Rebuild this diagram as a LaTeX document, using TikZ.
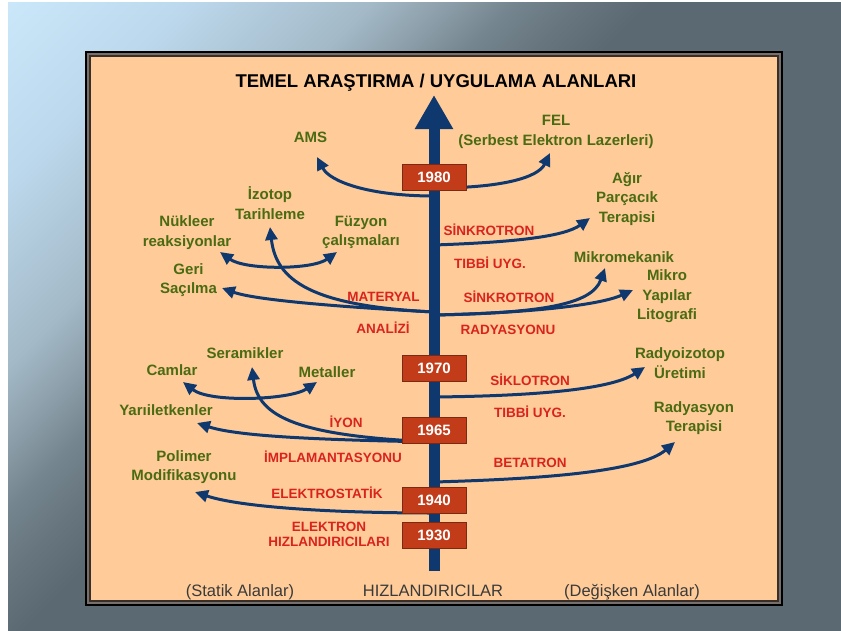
\documentclass[tikz,border=0pt]{standalone}
\usepackage{fontspec}
\setmainfont{Liberation Sans}
\usetikzlibrary{arrows.meta}
\definecolor{bgzero}{HTML}{CBE8FB}
\definecolor{bgone}{HTML}{BCD8EC}
\definecolor{bgtwo}{HTML}{A3B9C7}
\definecolor{bgthree}{HTML}{8A9CA7}
\definecolor{bgfour}{HTML}{75858F}
\definecolor{bgfive}{HTML}{66757E}
\definecolor{bgdark}{HTML}{5B6A72}
\definecolor{peach}{HTML}{FFCC99}
\definecolor{framegray}{HTML}{75706E}
\definecolor{frameedge}{HTML}{3A2E28}
\definecolor{axisblue}{HTML}{0F386E}
\definecolor{boxred}{HTML}{C23C1A}
\definecolor{boxedge}{HTML}{7A2A12}
\definecolor{labred}{HTML}{D9231E}
\definecolor{labgreen}{HTML}{4A6B12}
\definecolor{bottomgray}{HTML}{3A3A3A}
\pgfdeclareverticalshading{bglin}{100bp}{color(0bp)=(bgzero); color(14.6bp)=(bgzero); color(21.7bp)=(bgone); color(28.8bp)=(bgtwo); color(31.9bp)=(bgthree); color(34.2bp)=(bgfour); color(36.8bp)=(bgfive); color(39.4bp)=(bgdark); color(100bp)=(bgdark)}
\tikzset{
  gtext/.style={text=labgreen, font=\bfseries\fontsize{15}{19.5}\selectfont, align=center, inner sep=0pt},
  rtext/.style={text=labred, font=\bfseries\fontsize{13.5}{15}\selectfont, align=center, inner sep=0pt},
  yearbox/.style={fill=boxred, draw=boxedge, line width=1pt, minimum width=64pt, minimum height=26pt, inner sep=0pt, text=white, font=\bfseries\fontsize{15}{18}\selectfont},
  conn/.style={draw=axisblue, line width=3pt, -{Triangle[length=13pt,width=12pt]}},
  biconn/.style={draw=axisblue, line width=3pt, {Triangle[length=13pt,width=12pt]}-{Triangle[length=13pt,width=12pt]}},
  btext/.style={text=bottomgray, font=\fontsize{16.5}{19}\selectfont, inner sep=0pt, anchor=base},
}
\begin{document}
\begin{tikzpicture}[x=1pt,y=-1pt]
\useasboundingbox (0,0) rectangle (841,630);
% background
\fill[bgdark] (-5,-5) rectangle (850,640);
\shade[shading=bglin, shading angle=225] (0,0) rectangle (1110,750);
\fill[white] (-5,-5) rectangle (8,640);
\fill[white] (-5,-5) rectangle (850,2);
% frame
\path[fill=framegray, draw=black, line width=1.5pt] (86,52) rectangle (782,605);
\path[fill=peach, draw=frameedge, line width=1.2pt] (90,56) rectangle (778,601);
% title
\node[font=\bfseries\fontsize{18.5}{22}\selectfont, inner sep=0pt] (title) at (436,83) {TEMEL ARAŞTIRMA / UYGULAMA ALANLARI};
% axis coordinates
\coordinate (axbot) at (434,571);
\coordinate (axtop) at (434,95);
\coordinate (sAMS) at (434,196);
\coordinate (sFEL) at (434,188);
\coordinate (sAgir) at (434,245);
\coordinate (sMikro) at (434,315);
\coordinate (sMat) at (434,312);
\coordinate (sSik) at (434,397);
\coordinate (sIyon) at (434,442);
\coordinate (sBeta) at (434,482);
\coordinate (sElek) at (434,513);
% arrow tips
\coordinate (tAMS) at (317,157);
\coordinate (tFEL) at (550,153);
\coordinate (tAgir) at (590,218);
\coordinate (tMyap) at (633,290);
\coordinate (tMmek) at (605,268);
\coordinate (tGeri) at (222,288);
\coordinate (tIzo) at (270,227);
\coordinate (tNuk) at (220,252);
\coordinate (tFuz) at (337,252);
\coordinate (tRiz) at (645,367);
\coordinate (tSer) at (252,367);
\coordinate (tCam) at (183,382);
\coordinate (tMet) at (317,382);
\coordinate (tYar) at (197,423);
\coordinate (tRad) at (675,442);
\coordinate (tPol) at (195,492);
% connectors
\draw[conn] (sAMS) .. controls (370,196) and (330,182) .. (tAMS);
\draw[conn] (sFEL) .. controls (500,188) and (538,178) .. (tFEL);
\draw[conn] (sAgir) .. controls (520,242) and (565,236) .. (tAgir);
\draw[conn] (sMikro) .. controls (530,313) and (600,305) .. (tMyap);
\draw[conn] (sMikro) .. controls (540,313) and (592,305) .. (tMmek);
\draw[conn] (sMat) .. controls (340,307) and (255,300) .. (tGeri);
\draw[conn] (sMat) .. controls (310,306) and (276,280) .. (tIzo);
\draw[biconn] (tNuk) .. controls (245,270) and (312,270) .. (tFuz);
\draw[conn] (sSik) .. controls (530,396) and (610,390) .. (tRiz);
\draw[conn] (sIyon) .. controls (300,436) and (258,418) .. (tSer);
\draw[biconn] (tCam) .. controls (210,403) and (290,400) .. (tMet);
\draw[conn] (sIyon) .. controls (330,440) and (240,437) .. (tYar);
\draw[conn] (sBeta) .. controls (540,479) and (640,472) .. (tRad);
\draw[conn] (sElek) .. controls (330,513) and (240,507) .. (tPol);
% main axis
\draw[axisblue, line width=11pt, -{Triangle[length=34pt,width=36pt]}] (axbot) -- (axtop);
% year boxes
\node[yearbox] (y1980) at (434,177) {1980};
\node[yearbox] (y1970) at (434,368) {1970};
\node[yearbox] (y1965) at (434,430.5) {1965};
\node[yearbox] (y1940) at (434,500) {1940};
\node[yearbox] (y1930) at (434,535) {1930};
% green labels
\node[gtext] (ams) at (310.5,137) {AMS};
\node[gtext] (fel) at (556,132) {FEL\\(Serbest Elektron Lazerleri)};
\node[gtext] (agir) at (627,199) {Ağır\\Parçacık\\Terapisi};
\node[gtext] (izo) at (270,203) {İzotop\\Tarihleme};
\node[gtext] (nuk) at (187,232.5) {Nükleer\\reaksiyonlar};
\node[gtext] (fuz) at (361,232.5) {Füzyon\\çalışmaları};
\node[gtext] (geri) at (188.5,280) {Geri\\Saçılma};
\node[gtext] (mmek) at (624,257) {Mikromekanik};
\node[gtext] (myap) at (667,296.5) {Mikro\\Yapılar\\Litografi};
\node[gtext] (ser) at (245,353) {Seramikler};
\node[gtext] (cam) at (172,370) {Camlar};
\node[gtext] (met) at (327,372) {Metaller};
\node[gtext] (yar) at (166,410) {Yarıiletkenler};
\node[gtext] (pol) at (184,467) {Polimer\\Modifikasyonu};
\node[gtext] (riz) at (680,363) {Radyoizotop\\Üretimi};
\node[gtext] (rad) at (694,418) {Radyasyon\\Terapisi};
% red labels
\node[rtext] (sink1) at (489,230) {SİNKROTRON};
\node[rtext] (tib1) at (490,263) {TIBBİ UYG.};
\node[rtext] (mat) at (383.5,297) {MATERYAL};
\node[rtext] (ana) at (383,328) {ANALİZİ};
\node[rtext] (sink2) at (509,297) {SİNKROTRON};
\node[rtext] (rady) at (508,330) {RADYASYONU};
\node[rtext] (sikl) at (530,380) {SİKLOTRON};
\node[rtext] (tib2) at (530,412) {TIBBİ UYG.};
\node[rtext] (iyon) at (346,422) {İYON};
\node[rtext] (impl) at (333,457) {İMPLAMANTASYONU};
\node[rtext] (beta) at (530,463) {BETATRON};
\node[rtext] (elst) at (327,493) {ELEKTROSTATİK};
\node[rtext] (elhz) at (329,534.5) {ELEKTRON\\HIZLANDIRICILARI};
% bottom texts
\node[btext] (stat) at (240,596) {(Statik Alanlar)};
\node[btext] (hizl) at (433,596) {HIZLANDIRICILAR};
\node[btext] (degi) at (632,596) {(Değişken Alanlar)};
\end{tikzpicture}
\end{document}
